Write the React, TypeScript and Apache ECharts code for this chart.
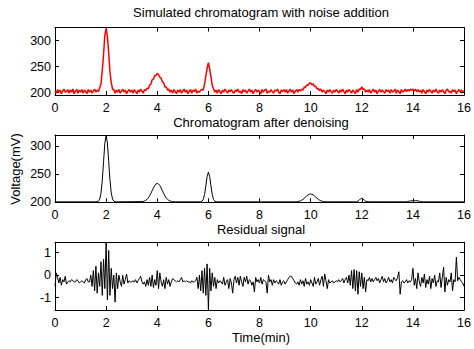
import React, { useEffect, useRef } from "react";
import * as echarts from "echarts";

// ---------- data ----------
const STEP = 0.05; // min between samples of the noisy / residual signals

// Simulated chromatogram with noise (mV), sampled every 0.05 min from 0 to 16
const noisySignal: number[] = [
  203,199,206,201,205,198,203,207,201,202,206,199,205,201,207,198,203,206,199,205,
  201,206,199,205,202,198,206,201,205,199,203,207,201,205,202,210,217,243,274,311,
  324,308,277,240,220,207,206,199,205,201,206,199,203,207,201,205,198,203,206,201,
  205,199,206,202,198,205,201,207,203,199,206,204,209,207,215,216,225,226,233,233,
  237,235,230,228,221,219,211,211,205,207,201,205,199,206,202,198,205,201,206,199,
  203,207,201,205,198,203,206,199,205,202,207,199,203,201,205,206,205,217,232,247,
  258,246,231,214,208,201,205,199,206,202,198,205,201,207,203,199,205,202,206,201,
  199,205,202,207,201,203,198,206,202,205,199,203,207,201,205,198,203,206,201,205,
  202,198,206,201,205,207,199,203,201,206,202,199,205,203,207,201,198,205,202,206,
  201,206,199,203,207,201,205,198,203,206,201,206,203,207,205,211,210,215,214,218,
  219,215,217,212,212,207,208,204,207,201,205,202,198,205,201,206,202,199,205,201,
  206,203,199,205,201,207,202,198,205,201,206,203,199,205,202,198,206,201,207,206,
  211,206,207,201,205,201,206,199,203,207,201,205,198,203,206,201,205,202,199,206,
  202,205,199,206,201,203,207,199,205,202,198,206,201,203,207,202,206,203,207,204,
  207,203,207,202,206,201,205,199,206,202,198,205,201,206,203,199,205,201,207,202,
  199,205,201,206,202,198,205,207,201,203,199,206,202,205,198,203,206,201,205,202,
  203,
];

// Chromatogram after denoising (time in min, voltage in mV)
const denoisedTime: number[] = [
  0, 1.6, 1.65, 1.7, 1.75, 1.8, 1.85, 1.9, 1.95, 2.0, 2.05, 2.1, 2.15, 2.2, 2.25, 2.3, 2.35, 2.4,
  3.4, 3.45, 3.5, 3.55, 3.6, 3.65, 3.7, 3.75, 3.8, 3.85, 3.9, 3.95, 4.0,
  4.05, 4.1, 4.15, 4.2, 4.25, 4.3, 4.35, 4.4, 4.45, 4.5, 4.55, 4.6, 4.7,
  5.65, 5.7, 5.75, 5.8, 5.85, 5.9, 5.95, 6.0, 6.05, 6.1, 6.15, 6.2, 6.25, 6.3, 6.35,
  9.35, 9.4, 9.45, 9.5, 9.55, 9.6, 9.65, 9.7, 9.75, 9.8, 9.85, 9.9, 9.95, 10.0,
  10.05, 10.1, 10.15, 10.2, 10.25, 10.3, 10.35, 10.4, 10.45, 10.5, 10.55, 10.6, 10.65,
  11.75, 11.8, 11.85, 11.9, 11.95, 12.0, 12.05, 12.1, 12.15, 12.2, 12.25,
  13.7, 13.8, 13.85, 13.9, 14.0, 14.1, 14.2, 14.25, 14.3, 14.4, 16,
];
const denoisedVoltage: number[] = [
  200, 200, 200.3, 201.3, 205.2, 216.1, 238.6, 272.2, 305, 319, 305, 272.2, 238.6, 216.1, 205.2, 201.3, 200.3, 200,
  200.4, 200.8, 201.4, 202.6, 204.5, 207.1, 210.7, 215.1, 220, 224.9, 229.1, 232, 233,
  232, 229.1, 224.9, 220, 215.1, 210.7, 207.1, 204.5, 202.6, 201.4, 200.8, 200.4, 200,
  200, 200.2, 201.1, 204.5, 213.2, 228.6, 245.4, 253, 245.4, 228.6, 213.2, 204.5, 201.1, 200.2, 200,
  200, 200.2, 200.3, 200.6, 201.1, 201.9, 203, 204.5, 206.4, 208.5, 210.6, 212.4, 213.6, 214,
  213.6, 212.4, 210.6, 208.5, 206.4, 204.5, 203, 201.9, 201.1, 200.6, 200.3, 200.2, 200,
  200.05, 200.3, 201.1, 203, 205.4, 206.6, 205.4, 203, 201.1, 200.3, 200.05,
  200, 200.5, 201.2, 201.8, 202, 202, 201.8, 201.2, 200.5, 200, 200,
];

// Residual signal (mV), sampled every 0.05 min from 0 to 16
const residualSignal: number[] = [
  -0.5,0.1,-0.1,-0.35,-0.1,-0.45,-0.2,-0.3,-0.05,-0.4,-0.3,-0.25,-0.3,-0.2,-0.25,-0.3,-0.3,-0.2,-0.25,-0.35,
  -0.3,-0.25,-0.3,-0.35,-0.2,-0.15,-0.3,-0.3,0.0,-0.5,0.2,-0.7,0.4,-0.8,0.1,-0.5,0.6,-0.9,0.7,-0.6,
  1.45,-1.1,1.1,-0.9,0.3,-0.6,0.0,-1.2,0.1,-0.6,0.0,-0.3,-0.5,0.0,-0.4,-0.2,0.05,-0.35,-0.25,-0.3,
  -0.3,-0.25,-0.3,-0.2,-0.35,-0.25,-0.15,-0.05,-0.3,-0.4,-0.3,-0.5,-0.2,-0.45,-0.1,-0.5,0.0,-0.55,-0.2,-0.45,
  0.2,-0.6,0.1,-0.3,-0.5,-0.2,-0.6,-0.1,-0.4,-0.2,-0.5,-0.3,-0.15,-0.2,-0.25,-0.3,-0.25,-0.3,-0.2,-0.1,
  -0.3,-0.25,-0.3,-0.25,-0.3,-0.3,-0.35,-0.25,-0.3,-0.3,-0.25,-0.1,-0.6,0.0,-0.7,0.2,-0.8,0.3,-0.9,0.5,
  -1.55,0.3,-0.7,0.1,-0.5,-0.1,-0.6,-0.2,-0.35,-0.25,-0.3,-0.4,-0.1,-0.45,-0.3,-0.2,-0.6,-0.15,-0.35,-0.8,
  -0.2,-0.05,-0.35,-0.1,-0.45,-0.05,-0.3,-0.5,-0.1,-0.3,-0.05,-0.4,-0.2,-0.25,-0.45,-0.3,-0.75,-0.1,-0.3,-0.2,
  -0.35,-0.1,-0.4,-0.2,-0.25,-0.3,-0.8,0.0,-0.3,-0.2,-0.45,-0.2,-0.35,-0.25,-0.3,-0.4,-0.2,-0.45,-0.3,-0.25,
  -0.4,-0.3,-0.2,-0.1,-0.05,-0.05,-0.15,-0.25,-0.35,-0.4,-0.3,-0.45,-0.2,-0.4,-0.25,-0.5,-0.15,-0.4,-0.3,-0.45,
  -0.2,-0.35,-0.5,-0.1,-0.4,-0.3,-0.15,-0.45,-0.2,-0.05,-0.5,0.05,-0.25,-0.6,-0.2,-0.35,-0.3,-0.25,-0.35,-0.3,
  -0.25,-0.3,-0.2,-0.3,-0.25,-0.15,-0.35,-0.2,-0.1,-0.35,0.0,-0.45,0.2,-0.6,0.25,-0.7,0.2,-0.85,0.15,-0.5,
  0.1,-0.6,-0.1,-0.75,-0.2,-0.25,-0.1,-0.3,-0.15,-0.3,-0.2,-0.1,-0.25,-0.15,-0.35,-0.2,-0.05,-0.3,-0.15,-0.35,
  -0.25,-0.1,-0.3,-0.2,-0.35,-0.1,-0.2,-0.25,-0.1,0.15,-0.85,-0.3,-0.25,-0.35,-0.3,-0.2,-0.35,-0.25,-0.3,-0.2,
  0.3,-0.45,-0.15,-0.6,0.1,-0.3,-0.5,-0.1,-0.35,0.05,-0.55,-0.2,-0.4,-0.05,-0.6,-0.15,-0.35,0.0,-0.5,-0.25,
  -0.3,0.1,-0.55,-0.1,0.35,-0.75,-0.1,-0.45,-0.2,-0.3,0.1,-0.7,-0.2,-0.3,0.8,-0.25,-0.1,-0.2,-0.3,-0.35,
  -0.5,
];

const titles: string[] = [
  "Simulated chromatogram with noise addition",
  "Chromatogram after denoising",
  "Residual signal",
];
const xAxisName = "Time(min)";
const yAxisName = "Voltage(mV)";
const timeRange: [number, number] = [0, 16];
const timeTickStep = 2;
const yRanges: [number, number][] = [
  [195.5, 325.5],
  [199.2, 319.5],
  [-1.55, 1.46],
];
const yTickSteps: number[] = [50, 50, 1];

// ---------- chart ----------
const FONT = '"Liberation Sans", Arial, Helvetica, sans-serif';

const uniformPairs = (vals: number[]) => vals.map((v, i) => [+(i * STEP).toFixed(4), v]);

export default function App() {
  const ref = useRef<HTMLDivElement>(null);

  useEffect(() => {
    if (!ref.current) return;
    const chart = echarts.init(ref.current, undefined, { renderer: "svg" });

    const grids = [
      { left: 55, top: 27.5, width: 411.5, height: 67.5 },
      { left: 55, top: 135, width: 411.5, height: 67.3 },
      { left: 55, top: 242.3, width: 411.5, height: 67.7 },
    ];

    const axisLine = { show: true, onZero: false, lineStyle: { color: "#000", width: 1 } };
    const axisTick = { show: true, inside: true, length: 4, lineStyle: { color: "#000", width: 1 } };
    const labelBase = { color: "#000", fontSize: 12.5, fontFamily: FONT };

    const xAxes: any[] = [];
    const yAxes: any[] = [];
    grids.forEach((_, g) => {
      xAxes.push({
        type: "value", gridIndex: g, position: "bottom",
        min: timeRange[0], max: timeRange[1], interval: timeTickStep,
        axisLine, axisTick, splitLine: { show: false },
        axisLabel: { ...labelBase, margin: 6 },
      });
      xAxes.push({
        type: "value", gridIndex: g, position: "top",
        min: timeRange[0], max: timeRange[1], interval: timeTickStep,
        axisLine, axisTick, splitLine: { show: false },
        axisLabel: { show: false },
      });
      const step = yTickSteps[g];
      const fmt = (v: number) =>
        Math.abs(v / step - Math.round(v / step)) < 1e-6 ? String(Math.round(v / step) * step) : "";
      yAxes.push({
        type: "value", gridIndex: g, position: "left",
        min: yRanges[g][0], max: yRanges[g][1], minInterval: step, maxInterval: step,
        axisLine, axisTick, splitLine: { show: false },
        axisLabel: { ...labelBase, margin: 4, formatter: fmt },
      });
      yAxes.push({
        type: "value", gridIndex: g, position: "right",
        min: yRanges[g][0], max: yRanges[g][1], minInterval: step, maxInterval: step,
        axisLine, axisTick, splitLine: { show: false },
        axisLabel: { show: false },
      });
    });

    const textStyle = (text: string) => ({
      text, fill: "#000", fontSize: 13, fontFamily: FONT, align: "center", verticalAlign: "middle",
    });

    chart.setOption({
      animation: false,
      backgroundColor: "#fff",
      grid: grids,
      xAxis: xAxes,
      yAxis: yAxes,
      series: [
        {
          type: "line", xAxisIndex: 0, yAxisIndex: 0, showSymbol: false,
          data: uniformPairs(noisySignal),
          lineStyle: { color: "#ff0000", width: 1.5 }, itemStyle: { color: "#ff0000" },
        },
        {
          type: "line", xAxisIndex: 2, yAxisIndex: 2, showSymbol: false,
          data: denoisedTime.map((t, i) => [t, denoisedVoltage[i]]),
          lineStyle: { color: "#000", width: 1 }, itemStyle: { color: "#000" },
        },
        {
          type: "line", xAxisIndex: 4, yAxisIndex: 4, showSymbol: false,
          data: uniformPairs(residualSignal),
          lineStyle: { color: "#000", width: 1 }, itemStyle: { color: "#000" },
        },
      ],
      graphic: [
        { type: "text", x: 261, y: 12, style: textStyle(titles[0]) },
        { type: "text", x: 261, y: 122, style: textStyle(titles[1]) },
        { type: "text", x: 261, y: 229.5, style: textStyle(titles[2]) },
        { type: "text", x: 261, y: 337.5, style: textStyle(xAxisName) },
        { type: "text", x: 15, y: 169, rotation: Math.PI / 2, style: textStyle(yAxisName) },
      ],
    });

    return () => chart.dispose();
  }, []);

  return (
    <div
      ref={ref}
      style={{ position: "fixed", left: 0, top: 0, width: 474, height: 349, background: "#fff" }}
    />
  );
}
